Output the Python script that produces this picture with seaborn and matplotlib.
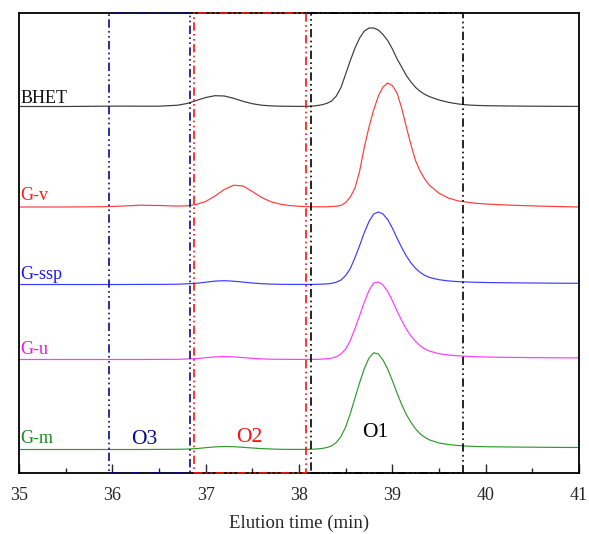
import numpy as np
import pandas as pd
import matplotlib
matplotlib.use("Agg")
import matplotlib.pyplot as plt
from matplotlib.patches import Rectangle
import seaborn as sns

# ---------------- data ----------------
time_min = [35.0, 35.5, 35.9, 36.1, 36.3, 36.5, 36.7, 36.8, 36.9, 37.0, 37.1, 37.2, 37.3, 37.4,
            37.5, 37.6, 37.7, 37.8, 37.9, 38.0, 38.1, 38.15, 38.2, 38.25, 38.3, 38.35, 38.4,
            38.45, 38.5, 38.55, 38.6, 38.65, 38.7, 38.75, 38.8, 38.85, 38.9, 38.95, 39.0,
            39.05, 39.1, 39.15, 39.2, 39.25, 39.3, 39.35, 39.4, 39.5, 39.6, 39.7, 39.8, 39.9,
            40.0, 40.25, 40.5, 40.75, 41.0]

bhet = [0, 0, 0.3, 0.4, 0.3, 0.3, 1.3, 3.0, 6.0, 9.0, 10.8, 10.5, 8.2, 5.2,
        2.8, 1.3, 0.6, 0.3, 0.2, 0.1, 0.2, 0.5, 1.0, 1.8, 3.2, 5.5, 10.5,
        19, 32.5, 46, 58.5, 68.5, 75.5, 78.5, 78.5, 76.5, 72, 66, 57.7,
        47.7, 39.5, 31, 24.5, 19, 15, 12, 9.8, 6.5, 4.2, 2.6, 1.6, 1.1,
        0.8, 0.5, 0.3, 0.2, 0.1]

g_v = [0, 0, 0.3, 0.9, 1.8, 1.5, 0.9, 1.2, 2.6, 5.5, 11, 17.5, 21.8, 21,
       15.5, 9.5, 5.2, 2.8, 1.4, 0.7, 0.3, 0.2, 0.2, 0.2, 0.2, 0.5, 0.8,
       1.6, 4.5, 10, 19, 36, 60, 80, 97, 111, 120, 124, 121.5,
       114, 99, 80, 62, 46, 35.5, 27.5, 21.5, 13.8, 9, 6.2, 4.8, 3.7,
       3.0, 1.9, 1.1, 0.5, 0]

g_ssp = [0, 0, 0, 0, 0.1, 0.1, 0.3, 0.7, 1.2, 2.3, 3.4, 3.8, 3.3, 2.4,
         1.5, 0.8, 0.4, 0.2, 0.1, 0.1, 0.1, 0.1, 0.2, 0.4, 0.6, 1.2, 2.3,
         4.5, 9, 16, 27, 39, 52, 63, 70.5, 72.5, 70.5, 65, 56.5,
         46.5, 37, 28.5, 21.5, 16, 12, 9, 7, 4.8, 3.6, 2.9, 2.5, 2.2,
         2.0, 1.7, 1.5, 1.3, 1.2]

g_u = [0, 0, 0, 0, 0, 0.1, 0.2, 0.5, 0.9, 1.8, 2.6, 2.9, 2.6, 1.9,
       1.2, 0.6, 0.3, 0.2, 0.1, 0.1, 0.1, 0.1, 0.2, 0.4, 0.7, 1.4, 2.8,
       5.5, 10.5, 19, 31, 44, 57.5, 69, 76.5, 77.5, 74.5, 68, 59,
       48.5, 39, 30.5, 23.5, 18, 13.5, 10.5, 8.3, 5.8, 4.5, 3.7, 3.2, 2.8,
       2.5, 2.1, 1.9, 1.7, 1.6]

g_m = [0, 0, 0, 0, 0, 0.1, 0.2, 0.4, 0.9, 1.8, 2.6, 3.0, 2.8, 2.2,
       1.5, 0.9, 0.5, 0.2, 0.1, 0.1, 0.2, 0.3, 0.6, 1.1, 2.0, 3.7, 7,
       13, 22.5, 36, 51.5, 67, 81, 91.5, 96.7, 95.5, 89.5, 80.5, 69,
       56.5, 45, 35, 27, 20.5, 15.5, 12, 9.5, 6.5, 5, 4, 3.4, 3.0,
       2.8, 2.5, 2.3, 2.1, 2.0]

samples = ["BHET", "G-v", "G-ssp", "G-u", "G-m"]
signals = [bhet, g_v, g_ssp, g_u, g_m]
stack_offsets = [366.5, 266, 188.5, 113.5, 23.5]

# fraction windows (O3, O2, O1)
fraction_names = ["O3", "O2", "O1"]
fraction_start = [35.96, 36.87, 38.13]
fraction_end = [36.83, 38.08, 39.76]

x_ticks = [35, 36, 37, 38, 39, 40, 41]

# ---------------- style ----------------
sns.set_style("ticks")
plt.rcParams["font.family"] = ["Liberation Serif", "DejaVu Serif"]

line_colors = {"BHET": "#3a3a3a", "G-v": "#ff3b3b", "G-ssp": "#3b3bff",
               "G-u": "#ff3bff", "G-m": "#2e9a2e"}
text_colors = {"BHET": "#111111", "G-v": "#ff1a1a", "G-ssp": "#1a1aee",
               "G-u": "#ee10ee", "G-m": "#1a8a1a"}
frac_colors = {"O3": "#0a0a8c", "O2": "#ff1010", "O1": "#000000"}

rows = []
for name, sig, off in zip(samples, signals, stack_offsets):
    for t, v in zip(time_min, sig):
        rows.append({"time": t, "signal": off + v, "sample": name})
df = pd.DataFrame(rows)

fig = plt.figure(figsize=(5.89, 5.34), dpi=100)
ax = fig.add_axes([19 / 589, 1 - 473 / 534, 560 / 589, 460 / 534])

sns.lineplot(data=df, x="time", y="signal", hue="sample", palette=line_colors,
             hue_order=samples, estimator=None, sort=False, legend=False,
             linewidth=0.85, ax=ax)

ax.set_xlim(35, 41)
ax.set_ylim(0, 460)
ax.set_xticks(x_ticks)
ax.set_xticks(np.arange(35.5, 41, 1.0), minor=True)
ax.set_yticks([])
ax.tick_params(axis="x", which="major", direction="in", length=6.5, width=1.0,
               labelsize=13, pad=10, top=False)
ax.tick_params(axis="x", which="minor", direction="in", length=3.5, width=1.0, top=False)
for s in ax.spines.values():
    s.set_linewidth(1.3)
    s.set_color("black")

ax.set_xlabel("Elution time (min)", fontsize=13.5, labelpad=8)
ax.set_ylabel("")

# fraction boxes
dash_pat = (5, 2, 1, 2, 1, 2)
for name, a, b in zip(fraction_names, fraction_start, fraction_end):
    rect = Rectangle((a, 0), b - a, 460, fill=False, edgecolor=frac_colors[name],
                     linewidth=1.2, linestyle=(0, dash_pat), zorder=3, clip_on=False)
    ax.add_patch(rect)

# sample labels
label_y = [370, 273, 194, 119, 30]
for name, y in zip(samples, label_y):
    ax.text(35.015, y, name, color=text_colors[name], fontsize=13,
            ha="left", va="baseline")

# fraction labels
frac_label_x = [36.34, 37.47, 38.82]
frac_label_y = [29, 31, 36]
for name, x, y in zip(fraction_names, frac_label_x, frac_label_y):
    ax.text(x, y, name, color=frac_colors[name], fontsize=15.5,
            ha="center", va="baseline")

fig.savefig("out.png", dpi=100)
